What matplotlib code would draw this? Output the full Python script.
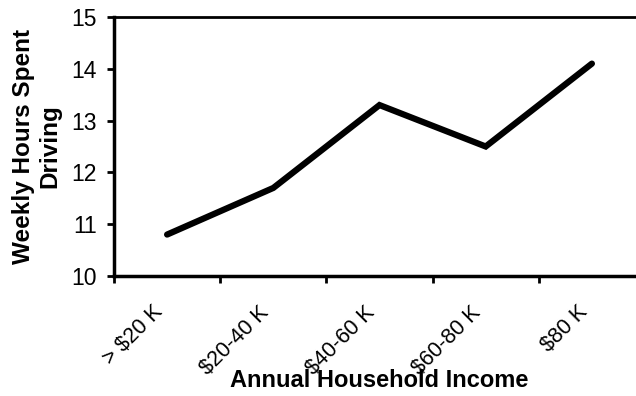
import numpy as np
import matplotlib
matplotlib.use('Agg')
import matplotlib.pyplot as plt
import matplotlib.transforms as mtransforms

plt.rcParams['font.family'] = ['Liberation Sans', 'DejaVu Sans']

income = ['> $20 K', '$20-40 K', '$40-60 K', '$60-80 K', '$80 K']
hours = [10.8, 11.7, 13.3, 12.5, 14.1]
yticks = [10, 11, 12, 13, 14, 15]

fig = plt.figure(figsize=(6.36, 3.96), dpi=100)
# plot area runs a little past the right edge, like the original
ax = fig.add_axes([114/636, 1-276/396, (645-114)/636, (276-17)/396])

x = np.arange(len(income))
ax.plot(x, hours, color='black', lw=4.5, solid_capstyle='round', solid_joinstyle='miter')

ax.set_xlim(-0.5, len(income)-0.5)
ax.set_ylim(10, 15)
ax.set_yticks(yticks)
ax.set_yticklabels([str(v) for v in yticks], fontsize=16.5)

# ticks sit between categories, labels at the centres
ax.set_xticks(np.arange(-0.5, len(income)), minor=False)
ax.set_xticklabels([])
ax.set_xticks(x, minor=True)
ax.set_xticklabels(income, minor=True, rotation=45, ha='right', va='center',
                   rotation_mode='anchor', fontsize=15.5)
ax.tick_params(axis='x', which='minor', length=0, pad=24)
ax.tick_params(axis='x', which='major', length=5, width=2, direction='out')
ax.tick_params(axis='y', length=5, width=2, direction='out', pad=7.5)

# nudge rotated labels a bit to the left
shift = mtransforms.ScaledTranslation(-8/100, 0, fig.dpi_scale_trans)
for lbl in ax.get_xticklabels(minor=True):
    lbl.set_transform(lbl.get_transform() + shift)

for s in ['left', 'bottom']:
    ax.spines[s].set_linewidth(2.5)
ax.spines['top'].set_linewidth(2)
ax.spines['right'].set_visible(False)

ax.set_xlabel('Annual Household Income', fontsize=17, fontweight='bold', va='center')
ax.xaxis.set_label_coords(0.5, -0.405)
ax.set_ylabel('Weekly Hours Spent\nDriving', fontsize=17.5, fontweight='bold',
              linespacing=1.2, va='center')
ax.yaxis.set_label_coords(-0.145, 0.5)

fig.savefig('out.png', dpi=100)
